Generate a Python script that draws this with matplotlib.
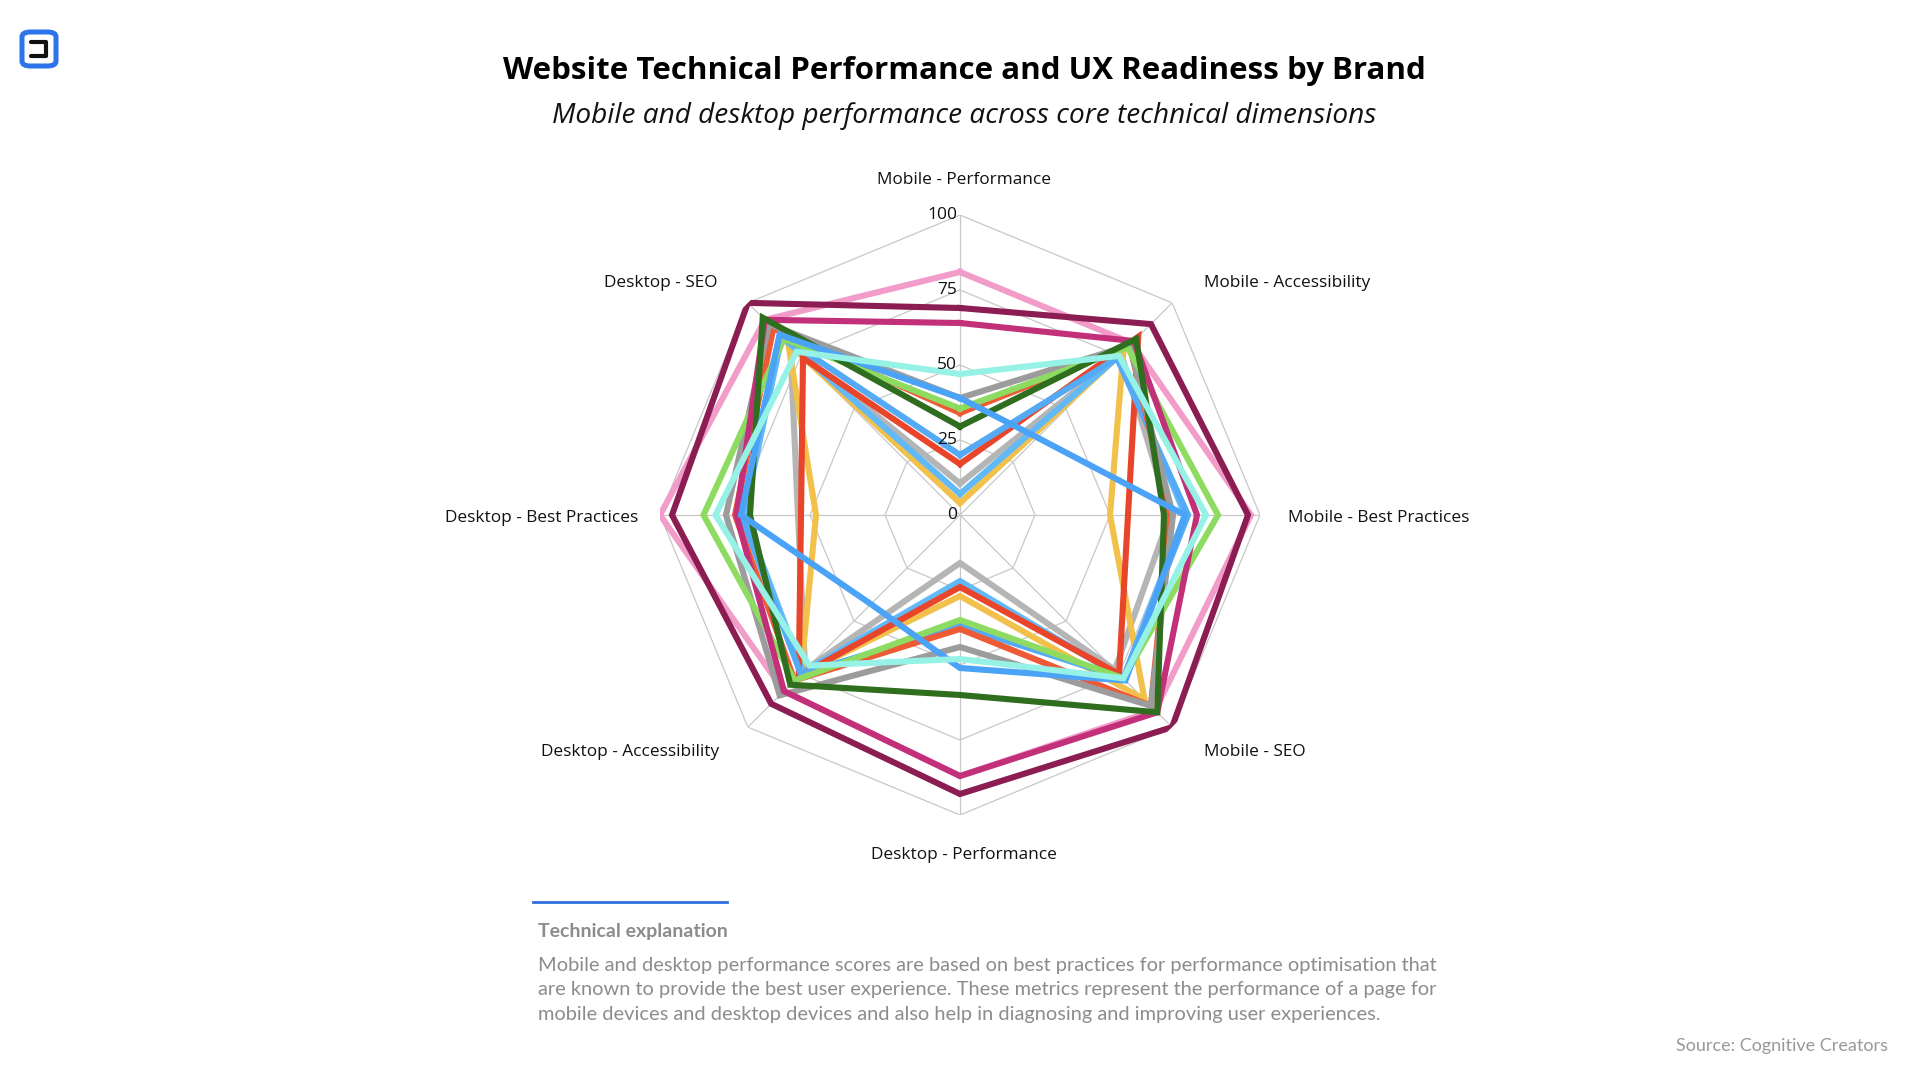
import numpy as np
import matplotlib
matplotlib.use("Agg")
import matplotlib.pyplot as plt
from matplotlib.patches import FancyBboxPatch
from matplotlib.lines import Line2D
import matplotlib.transforms as mtransforms

# --- datos ---
ejes = ["Mobile - Performance", "Mobile - Accessibility", "Mobile - Best Practices",
        "Mobile - SEO", "Desktop - Performance", "Desktop - Accessibility",
        "Desktop - Best Practices", "Desktop - SEO"]

# orden: MP, MA, MBP, MSEO, DP, DA, DBP, DSEO
pink       = [81, 81, 97, 92, 87, 83, 100, 92]
light_gray = [10.5, 76, 70, 73, 16, 73, 54, 80]
yellow     = [4, 77, 50, 87, 27, 75, 48, 81]
light_blue = [7, 75, 75, 77, 22, 74, 72, 84]
red_1      = [17, 84, 56, 75, 24, 76, 53, 74]
blue_2     = [20, 74, 76, 77, 37, 75, 73, 85]
red_2      = [34, 80, 70, 90, 38, 78, 75, 88]
dark_gray  = [39, 80, 71, 90, 44, 85, 78, 90]
light_green = [35.5, 79, 86, 77, 35, 78, 85.5, 83]
magenta    = [64, 82, 79, 93, 87, 83, 74.5, 92]
maroon     = [69, 90, 96, 100, 93, 89, 96, 100]
dark_green = [29.5, 83, 68, 93, 60, 80, 70, 93]
blue_1     = [39, 36.5, 75, 78, 51, 42, 73, 85]
cyan       = [47, 75, 82, 77, 48, 71, 81.5, 77]

series = [
    (pink, "#F29CC9"), (light_gray, "#B5B5B5"), (yellow, "#F2C14B"),
    (light_blue, "#62B9F7"), (red_1, "#E8452A"), (blue_2, "#55AAF5"),
    (red_2, "#EE5A36"), (dark_gray, "#9C9C9C"), (light_green, "#8EDB62"),
    (magenta, "#C2307A"), (maroon, "#8B1D52"), (dark_green, "#2E6E1E"),
    (blue_1, "#4BA3F7"), (cyan, "#96F2E6"),
]
anillos = [0, 25, 50, 75, 100]

W, H = 1920, 1080
fig = plt.figure(figsize=(19.2, 10.8), dpi=100)
fig.patch.set_facecolor("white")

def fx(x):
    return x / W

def fy(y):
    return 1 - y / H

# --- radar ---
cx, cy, R = 960, 515, 300
ax = fig.add_axes([fx(cx - R), fy(cy + R), 2 * R / W, 2 * R / H], projection="polar")
ax.set_theta_offset(np.pi / 2)
ax.set_theta_direction(-1)
ax.set_ylim(0, 100)
ax.grid(False)
ax.set_xticks([])
ax.set_yticks([])
ax.spines["polar"].set_visible(False)
ax.patch.set_alpha(0)

n = len(ejes)
ang = np.linspace(0, 2 * np.pi, n, endpoint=False)
ang_c = np.append(ang, ang[0])

for v in anillos[1:]:
    ax.plot(ang_c, [v] * (n + 1), color="#c8c8c8", lw=0.9, zorder=1)
for a in ang:
    ax.plot([a, a], [0, 100], color="#c8c8c8", lw=0.9, zorder=1)

for i, (vals, color) in enumerate(series):
    ax.plot(ang_c, vals + vals[:1], color=color, lw=4.4, zorder=3 + i,
            solid_joinstyle="miter")

off = mtransforms.offset_copy(ax.transData, fig=fig, x=-3, y=0, units="dots")
for v in anillos:
    ax.text(0, v, str(v), transform=off, ha="right", va="center",
            fontsize=12.5, family="Open Sans", color="#111111", zorder=30,
            clip_on=False)

# etiquetas de ejes
etq = [
    ("Mobile - Performance", 964, 180, "center"),
    ("Mobile - Accessibility", 1204, 283, "left"),
    ("Mobile - Best Practices", 1288, 518, "left"),
    ("Mobile - SEO", 1204, 752, "left"),
    ("Desktop - Performance", 964, 855, "center"),
    ("Desktop - Accessibility", 719, 752, "right"),
    ("Desktop - Best Practices", 638, 518, "right"),
    ("Desktop - SEO", 717, 283, "right"),
]
for txt, x, y, ha in etq:
    fig.text(fx(x), fy(y), txt, ha=ha, va="center", fontsize=12.4,
             family="Open Sans", color="#111111")

# --- titulos ---
fig.text(fx(964), fy(71), "Website Technical Performance and UX Readiness by Brand",
         ha="center", va="center", fontsize=22.5, fontweight="bold",
         family="Open Sans", color="#000000")
fig.text(fx(964), fy(116), "Mobile and desktop performance across core technical dimensions",
         ha="center", va="center", fontsize=20.2, style="italic",
         family="Open Sans", color="#111111")

# --- logo ---
logo = FancyBboxPatch((fx(22), fy(66)), 34 / W, 34 / H,
                      boxstyle="round,pad=0,rounding_size=0.0045",
                      transform=fig.transFigure, facecolor="white",
                      edgecolor="#2D74E8", lw=3.6)
fig.patches.append(logo)
fig.lines.append(Line2D([fx(31), fx(46), fx(46), fx(31)],
                        [fy(42), fy(42), fy(56), fy(56)],
                        transform=fig.transFigure, color="#111111", lw=3.0,
                        solid_joinstyle="round", solid_capstyle="round"))

# --- nota inferior ---
fig.lines.append(Line2D([fx(533), fx(727)], [fy(902), fy(902)],
                        transform=fig.transFigure, color="#2F6FE0", lw=2))
fig.text(fx(538), fy(931), "Technical explanation", ha="left", va="center",
         fontsize=14, fontweight="bold", family="Lato", color="#8c8c8c")
parrafo = ["Mobile and desktop performance scores are based on best practices for performance optimisation that",
           "are known to provide the best user experience. These metrics represent the performance of a page for",
           "mobile devices and desktop devices and also help in diagnosing and improving user experiences."]
for k, linea in enumerate(parrafo):
    fig.text(fx(538), fy(965 + 24.6 * k), linea, ha="left", va="center",
             fontsize=14.4, family="Lato", color="#8c8c8c")
fig.text(fx(1888), fy(1046), "Source: Cognitive Creators", ha="right", va="center",
         fontsize=13, family="Lato", color="#999999")

fig.savefig("out.png", dpi=100, facecolor="white")
